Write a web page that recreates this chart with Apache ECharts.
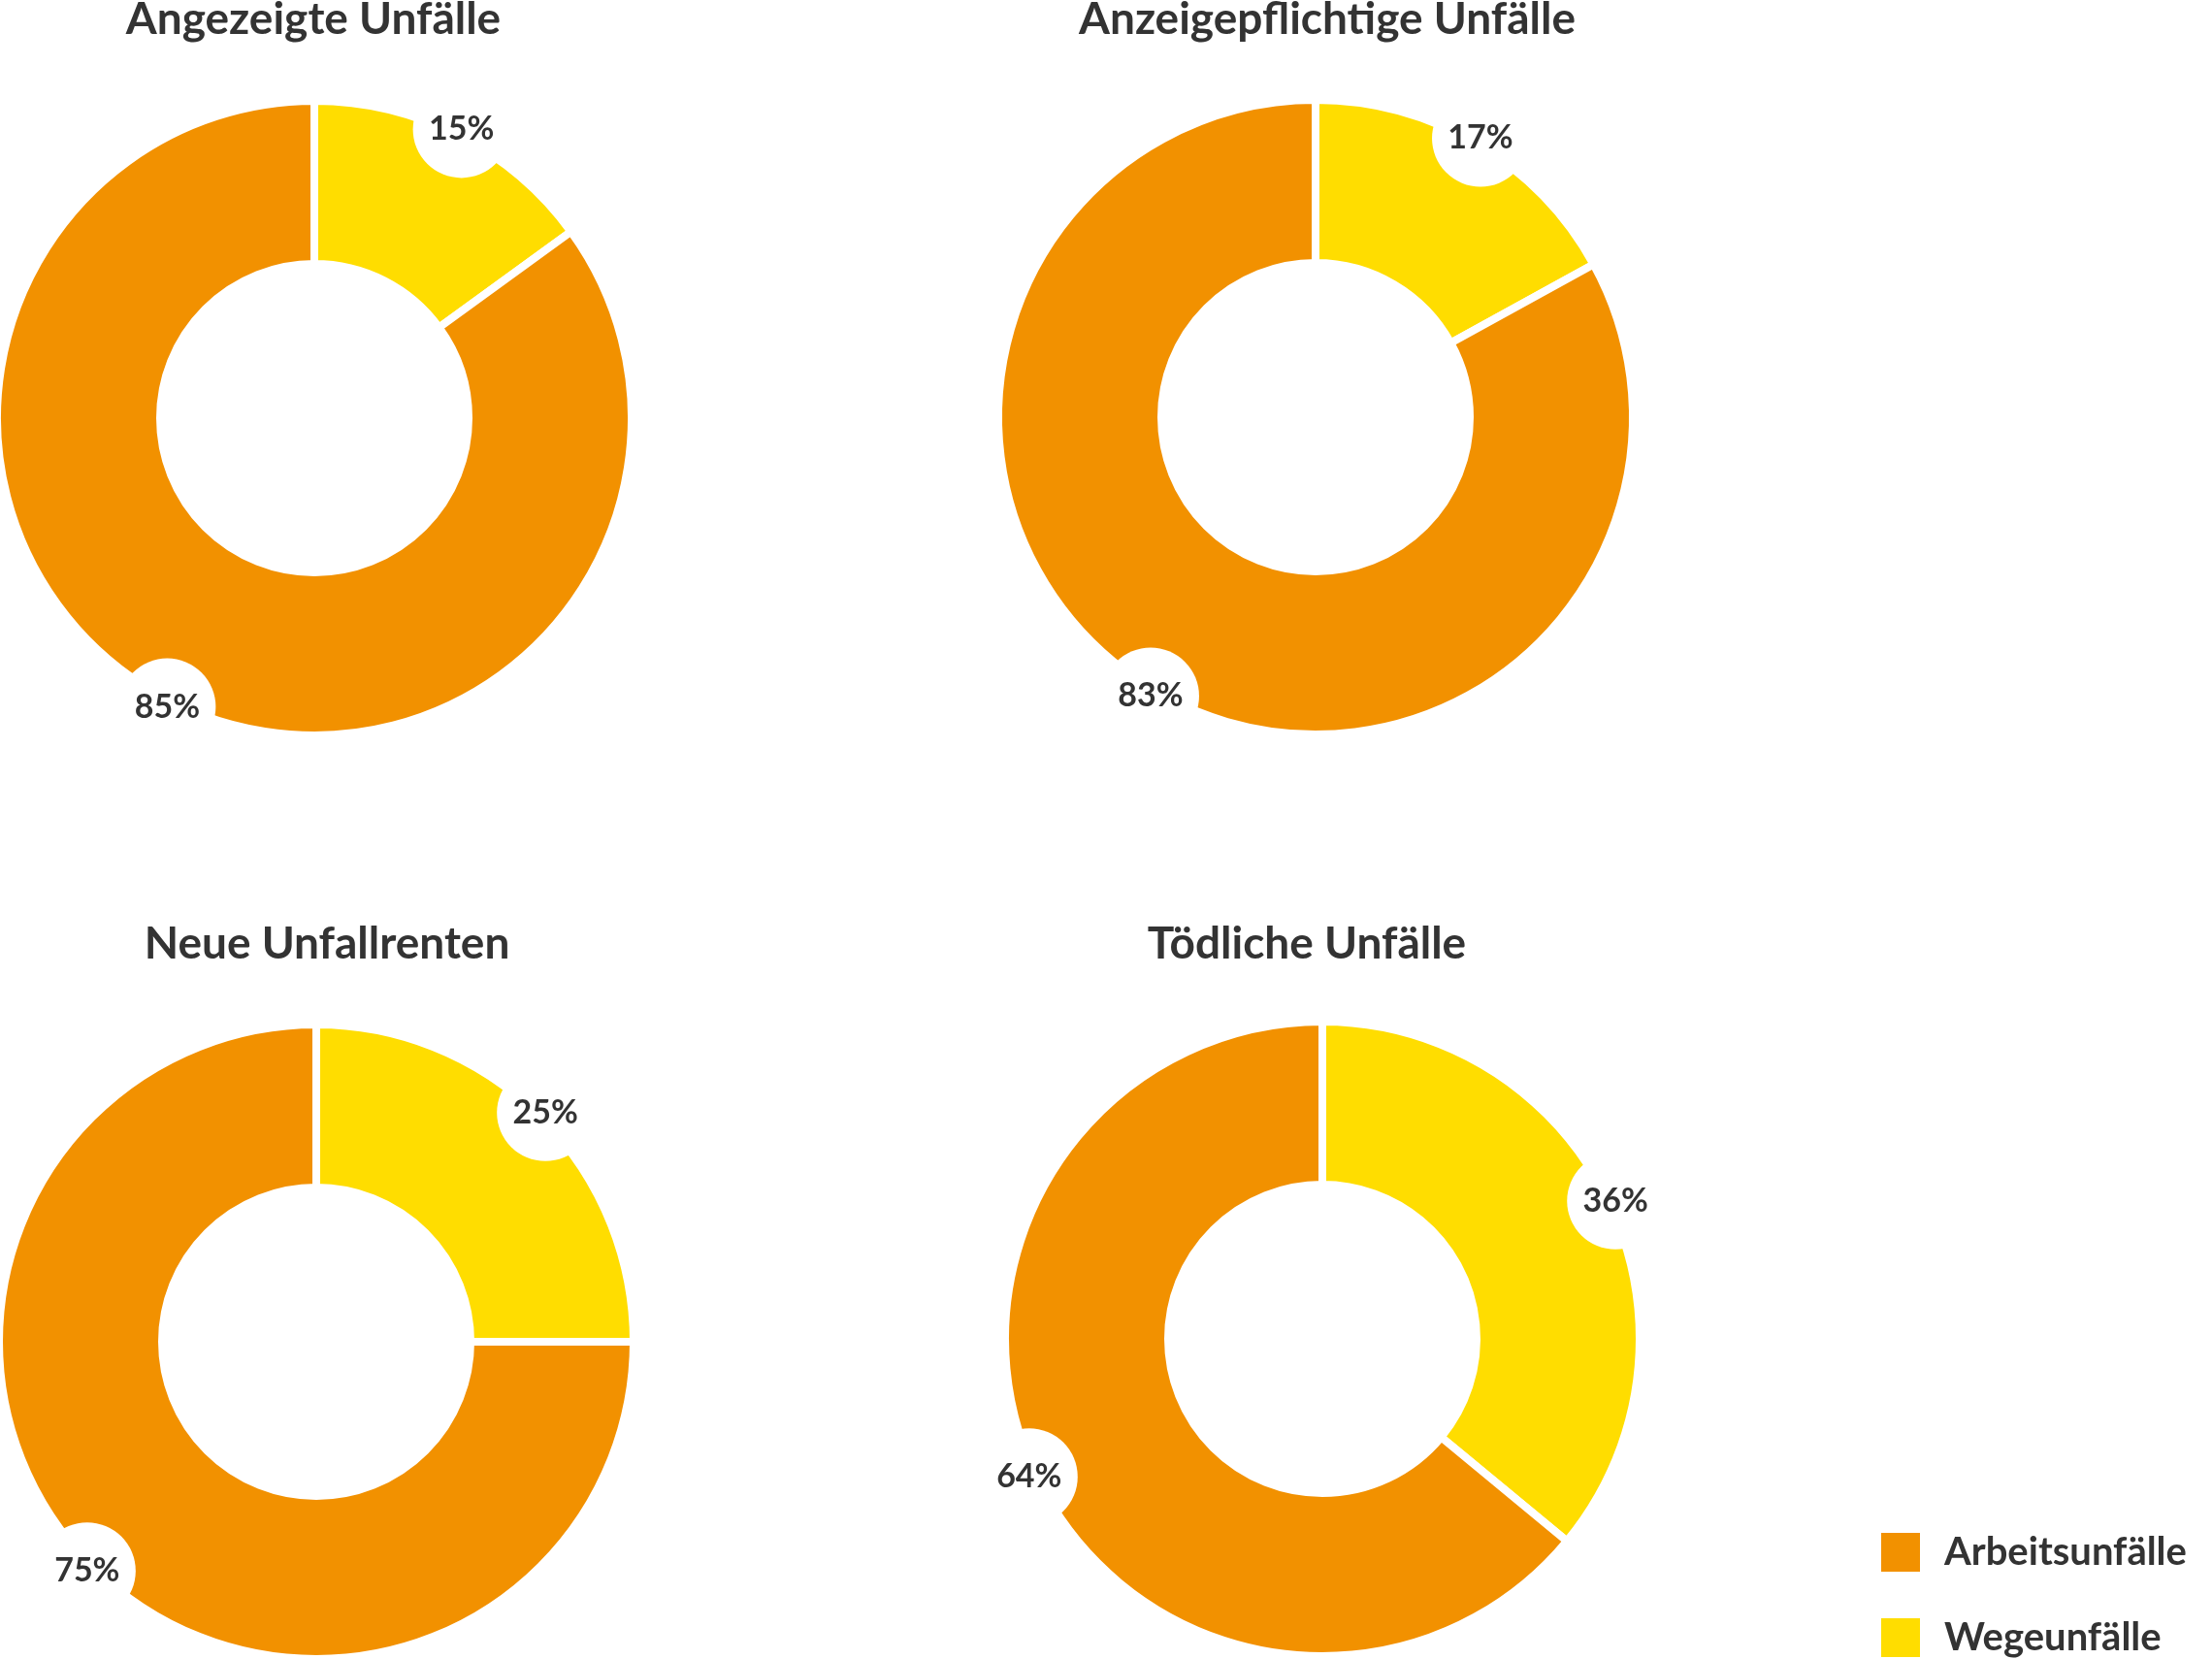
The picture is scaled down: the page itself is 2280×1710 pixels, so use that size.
<!DOCTYPE html>
<html>
<head>
<meta charset="utf-8">
<script src="https://cdn.jsdelivr.net/npm/echarts@6/dist/echarts.min.js"></script>
<style>
	html, body { margin: 0; padding: 0; background: #fff; }
	#main { width: 2280px; height: 1710px; }
</style>
</head>
<body>
<div id="main"></div>
<script type="text/javascript">
	// Daten
	var titles = ['Angezeigte Unfälle', 'Anzeigepflichtige Unfälle', 'Neue Unfallrenten', 'Tödliche Unfälle'];
	var categories = ['Wegeunfälle', 'Arbeitsunfälle'];
	var wege = [15, 17, 25, 36];
	var arbeit = [85, 83, 75, 64];
	var colors = { 'Wegeunfälle': '#FFDD00', 'Arbeitsunfälle': '#F29100' };

	// Positionen der Ringe und Überschriften
	var centers = [[324, 431], [1356, 430], [326, 1383], [1363, 1380]];
	var titlePos = [[323, -3], [1368, -3], [337, 950], [1347, 950]];

	var font = 'Lato, "Open Sans", sans-serif';

	var title = [];
	var series = [];
	for (var i = 0; i < titles.length; i++) {
		title.push({
			text: titles[i],
			left: titlePos[i][0],
			top: titlePos[i][1],
			textAlign: 'center',
			padding: 0,
			textStyle: { fontFamily: font, fontSize: 46, fontWeight: 'bold', color: '#333333' }
		});
		series.push({
			type: 'pie',
			center: centers[i],
			radius: [159, 327],
			startAngle: 90,
			clockwise: true,
			silent: true,
			label: { show: false },
			labelLine: { show: false },
			itemStyle: { borderColor: '#ffffff', borderWidth: 8 },
			data: [
				{ name: categories[0], value: wege[i], itemStyle: { color: colors[categories[0]] } },
				{ name: categories[1], value: arbeit[i], itemStyle: { color: colors[categories[1]] } }
			]
		});
		// unsichtbarer Ring nur für die Beschriftung am Aussenrand
		series.push({
			type: 'pie',
			center: centers[i],
			radius: [292, 370],
			startAngle: 90,
			clockwise: true,
			silent: true,
			labelLine: { show: false },
			label: {
				show: true,
				position: 'inside',
				formatter: '{c}%',
				fontFamily: font,
				fontSize: 34,
				fontWeight: 'bold',
				color: '#333333',
				backgroundColor: '#ffffff',
				width: 100,
				height: 100,
				lineHeight: 100,
				align: 'center',
				borderRadius: 50
			},
			data: [
				{ name: categories[0], value: wege[i], itemStyle: { color: 'rgba(0,0,0,0)' } },
				{ name: categories[1], value: arbeit[i], itemStyle: { color: 'rgba(0,0,0,0)' } }
			]
		});
	}

	var chart = echarts.init(document.getElementById('main'));
	chart.setOption({
		animation: false,
		title: title,
		legend: {
			orient: 'vertical',
			left: 1937,
			top: 1578,
			height: 200,
			padding: 0,
			itemWidth: 42,
			itemHeight: 42,
			itemGap: 44,
			selectedMode: false,
			icon: 'rect',
			textStyle: { fontFamily: font, fontSize: 40, lineHeight: 42, fontWeight: 'bold', color: '#333333', padding: [0, 0, 0, 19] },
			data: [
				{ name: 'Arbeitsunfälle', itemStyle: { color: colors['Arbeitsunfälle'] } },
				{ name: 'Wegeunfälle', itemStyle: { color: colors['Wegeunfälle'] } }
			]
		},
		series: series
	});
</script>
</body>
</html>
